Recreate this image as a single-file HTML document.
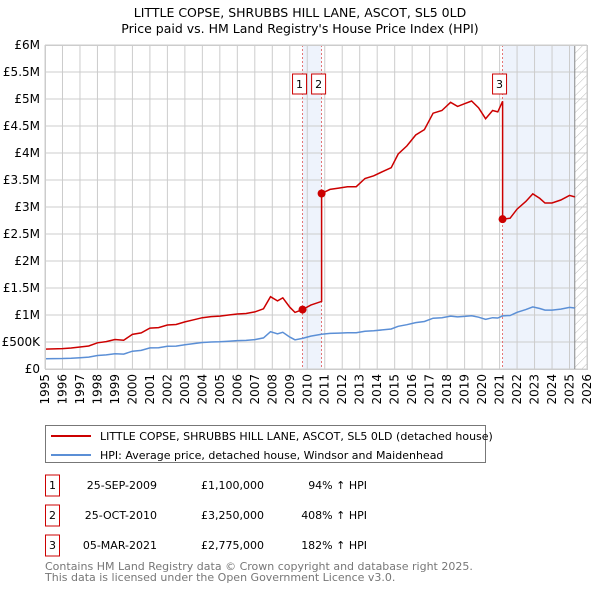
<!DOCTYPE html>
<html><head><meta charset="utf-8"><style>
body{margin:0;background:#fff;font-family:"Liberation Sans","DejaVu Sans",sans-serif;}
svg text{font-family:"DejaVu Sans","Liberation Sans",sans-serif;}
</style></head><body>
<svg id="c" width="600" height="590" viewBox="0 0 600 590" xmlns="http://www.w3.org/2000/svg">
<text x="300" y="17" text-anchor="middle" font-size="12.5" fill="#000">LITTLE COPSE, SHRUBBS HILL LANE, ASCOT, SL5 0LD</text>
<text x="300" y="33" text-anchor="middle" font-size="12.5" fill="#000">Price paid vs. HM Land Registry's House Price Index (HPI)</text>
<g id="plot"></g>
<g>
<rect x="45.5" y="425.5" width="440" height="37" fill="#fff" stroke="#777"/>
<line x1="51" y1="436" x2="91" y2="436" stroke="#cc0000" stroke-width="2"/>
<text x="100" y="440" font-size="11">LITTLE COPSE, SHRUBBS HILL LANE, ASCOT, SL5 0LD (detached house)</text>
<line x1="51" y1="455" x2="91" y2="455" stroke="#5b8fd6" stroke-width="2"/>
<text x="100" y="459" font-size="11">HPI: Average price, detached house, Windsor and Maidenhead</text>
</g>
<g id="table" font-size="11"></g>
<text x="45" y="570" font-size="11" fill="#777">Contains HM Land Registry data © Crown copyright and database right 2025.</text>
<text x="45" y="581" font-size="11" fill="#777">This data is licensed under the Open Government Licence v3.0.</text>
</svg>
<script>
const hpiYears=[1995,1995.5,1996,1996.5,1997,1997.5,1998,1998.5,1999,1999.5,2000,2000.5,2001,2001.5,2002,2002.5,2003,2003.5,2004,2004.5,2005,2005.5,2006,2006.5,2007,2007.5,2007.9,2008.3,2008.6,2009.0,2009.3,2009.73,2010.2,2010.82,2011.3,2011.8,2012.3,2012.8,2013.3,2013.8,2014.3,2014.8,2015.2,2015.7,2016.2,2016.7,2017.2,2017.7,2018.2,2018.6,2019.0,2019.4,2019.8,2020.2,2020.6,2020.9,2021.17,2021.6,2022.0,2022.5,2022.9,2023.3,2023.6,2024.0,2024.5,2025.0,2025.3];
const hpiValues=[190,192,195,200,210,220,250,262,282,275,330,345,390,395,420,425,450,470,490,500,505,515,525,530,545,575,690,650,680,590,540,567,610,645,660,665,670,670,700,710,725,740,790,820,860,880,940,950,980,965,975,985,960,920,950,945,984,990,1050,1100,1150,1120,1090,1090,1110,1140,1130];
const saleLabels=["1","2","3"];
const saleYears=[2009.73,2010.82,2021.17];
const salePrices=[1100000,3250000,2775000];
const saleDates=["25-SEP-2009","25-OCT-2010","05-MAR-2021"];
const saleText=["£1,100,000","£3,250,000","£2,775,000"];
const saleHpi=["94% ↑ HPI","408% ↑ HPI","182% ↑ HPI"];
const yTicks=[0,500000,1000000,1500000,2000000,2500000,3000000,3500000,4000000,4500000,5000000,5500000,6000000];
const yTickLabels=["£0","£500K","£1M","£1.5M","£2M","£2.5M","£3M","£3.5M","£4M","£4.5M","£5M","£5.5M","£6M"];

const NS="http://www.w3.org/2000/svg";
const X0=45,X1=587,Y0=369,Y1=45;
const xs=y=>X0+(y-1995)*(X1-X0)/31;
const ys=v=>Y0-v*(Y0-Y1)/6000000;
const g=document.getElementById('plot');
function mk(t,a,p){const e=document.createElementNS(NS,t);for(const k in a)e.setAttribute(k,a[k]);(p||g).appendChild(e);return e;}
function hpiAt(y){for(let i=1;i<hpiYears.length;i++){if(y<=hpiYears[i]){const t=(y-hpiYears[i-1])/(hpiYears[i]-hpiYears[i-1]);return (hpiValues[i-1]+t*(hpiValues[i]-hpiValues[i-1]))*1000;}}return hpiValues[hpiValues.length-1]*1000;}
let e=mk('rect',{x:xs(saleYears[0]),y:Y1,width:xs(saleYears[1])-xs(saleYears[0]),height:Y0-Y1,fill:'#eef3fc'});

e=mk('rect',{x:xs(saleYears[2]),y:Y1,width:xs(2025.3)-xs(saleYears[2]),height:Y0-Y1,fill:'#eef3fc'});

const defs=mk('defs',{});
const pat=mk('pattern',{id:'h',width:6,height:6,patternUnits:'userSpaceOnUse',patternTransform:'rotate(45)'},defs);
mk('line',{x1:0,y1:0,x2:0,y2:6,stroke:'#bbb','stroke-width':1},pat);
e=mk('rect',{x:xs(2025.3),y:Y1,width:X1-xs(2025.3),height:Y0-Y1,fill:'url(#h)'});

for(let yr=1995;yr<=2026;yr++){
 e=mk('line',{x1:xs(yr),y1:Y1,x2:xs(yr),y2:Y0,stroke:'#ccc','stroke-width':1});
 
 const tx=xs(yr)+4,ty=374;
 e=mk('text',{x:tx,y:ty,'text-anchor':'end','font-size':12,transform:'rotate(-90 '+tx+' '+ty+')'});e.textContent=yr;
 
}
yTicks.forEach((v,i)=>{
 e=mk('line',{x1:X0,y1:ys(v),x2:X1,y2:ys(v),stroke:'#ccc','stroke-width':1});
 
 e=mk('text',{x:40,y:ys(v)+4,'text-anchor':'end','font-size':12});e.textContent=yTickLabels[i];
 
});
e=mk('line',{x1:xs(2025.3),y1:Y1,x2:xs(2025.3),y2:Y0,stroke:'#888','stroke-width':1});

saleYears.forEach((y,i)=>{
 e=mk('line',{x1:xs(y),y1:Y1,x2:xs(y),y2:Y0,stroke:'#e05555','stroke-width':0.8,'stroke-dasharray':'2,2'});
 
});
let d='';hpiYears.forEach((y,i)=>{d+=(i?'L':'M')+xs(y).toFixed(1)+','+ys(hpiValues[i]*1000).toFixed(1);});
e=mk('path',{d:d,fill:'none',stroke:'#5b8fd6','stroke-width':1.5});

const factors=saleYears.map((y,i)=>salePrices[i]/hpiAt(y));
let pts=[];
hpiYears.forEach((y,i)=>{let f=factors[0];for(let k=0;k<saleYears.length;k++)if(y>=saleYears[k])f=factors[k];
 for(let k=0;k<saleYears.length;k++){if(i>0&&hpiYears[i-1]<saleYears[k]&&y>=saleYears[k]){const fp=k?factors[k-1]:factors[0];pts.push([saleYears[k],hpiAt(saleYears[k])*fp]);pts.push([saleYears[k],salePrices[k]]);}}
 pts.push([y,hpiValues[i]*1000*f]);});
d='';pts.forEach((p,i)=>{d+=(i?'L':'M')+xs(p[0]).toFixed(1)+','+ys(p[1]).toFixed(1);});
e=mk('path',{d:d,fill:'none',stroke:'#cc0000','stroke-width':1.5});

saleYears.forEach((y,i)=>{
 e=mk('circle',{cx:xs(y),cy:ys(salePrices[i]),r:4,fill:'#cc0000'});
 
 const bx=xs(y)-10;
 e=mk('rect',{x:bx,y:74,width:14,height:20,fill:'#fff',stroke:'#cc0000'});
 
 e=mk('text',{x:bx+7,y:88,'text-anchor':'middle','font-size':11});e.textContent=saleLabels[i];
 
});
e=mk('rect',{x:X0+0.5,y:Y1+0.5,width:X1-X0,height:Y0-Y1,fill:'none',stroke:'#ccc'});
const tb=document.getElementById('table');
saleYears.forEach((y,i)=>{
 const ry=483+i*30;
 e=mk('rect',{x:45.5,y:ry-8,width:14,height:21,fill:'#fff',stroke:'#cc0000'},tb);
 
 e=mk('text',{x:52.5,y:ry+6,'text-anchor':'middle'},tb);e.textContent=saleLabels[i];
 e=mk('text',{x:157,y:ry+6,'text-anchor':'end'},tb);e.textContent=saleDates[i];
 
 e=mk('text',{x:264,y:ry+6,'text-anchor':'end'},tb);e.textContent=saleText[i];
 
 e=mk('text',{x:367,y:ry+6,'text-anchor':'end'},tb);e.textContent=saleHpi[i];
 
});
</script>
</body></html>
